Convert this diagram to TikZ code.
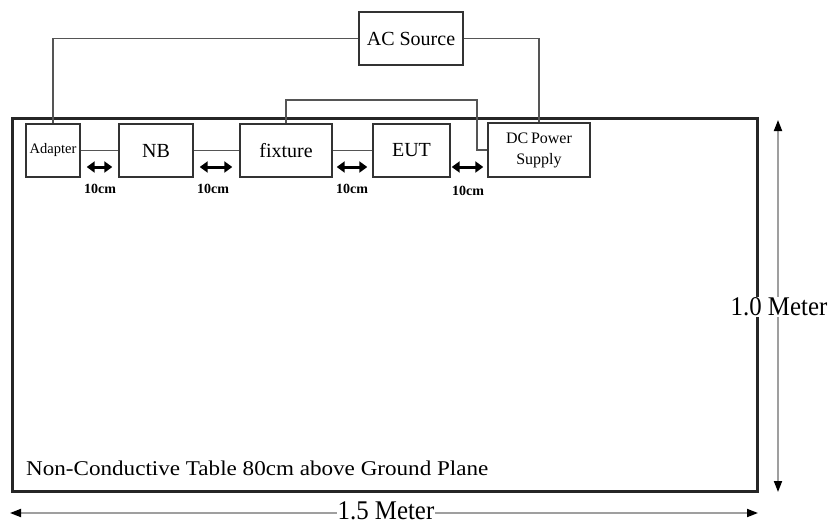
\documentclass[tikz,border=0pt]{standalone}
\usepackage{fontspec}
\setmainfont{Liberation Serif}
\usetikzlibrary{arrows.meta}
\definecolor{wire}{HTML}{555555}
\definecolor{boxc}{HTML}{333333}
\tikzset{
  x=1pt, y=-1pt,
  box/.style={draw=boxc, line width=1.4pt, rectangle, inner sep=0pt, minimum height=53pt, align=center, font=\fontsize{20}{20}\selectfont},
  wireline/.style={draw=wire, line width=1.7pt},
  gap/.style={line width=3pt, {Triangle[length=8pt,width=11pt]}-{Triangle[length=8pt,width=11pt]}},
  gaplabel/.style={font=\fontsize{14}{14}\selectfont\bfseries},
  dimline/.style={draw=gray!75, line width=1.8pt, {Triangle[length=11pt,width=8pt,fill=black,color=black]}-{Triangle[length=11pt,width=8pt,fill=black,color=black]}},
  dimlabel/.style={fill=white, inner sep=0.5pt, font=\fontsize{27}{27}\selectfont}
}
\begin{document}
\begin{tikzpicture}
\useasboundingbox (0,0) rectangle (834,525);
% table
\draw[line width=3pt, draw=black!85] (12,118) rectangle (757,491);
\node[anchor=west, inner sep=0pt, font=\fontsize{21}{21}\selectfont] (tabletext) at (26,468) {\scalebox{1.1}[1]{Non-Conductive Table 80cm above Ground Plane}};
% boxes
\node[box, minimum width=104pt] (ac) at (411,38.5) {AC Source};
\node[box, minimum width=54pt, font=\fontsize{14.5}{14.5}\selectfont] (adapter) at (53,150.5) {Adapter};
\node[box, minimum width=74pt] (nb) at (156,150.5) {NB};
\node[box, minimum width=92pt] (fix) at (286,150.5) {fixture};
\node[box, minimum width=77pt] (eut) at (411.5,150.5) {EUT};
\node[box, minimum width=102pt, minimum height=54pt, font=\fontsize{16}{21}\selectfont] (dc) at (539,150) {DC\,Power\\Supply};
% wiring
\draw[wireline] (ac.west) -| (adapter.north);
\draw[wireline] (ac.east) -| (dc.north);
\draw[wireline] (adapter.east) -- (nb.west);
\draw[wireline] (nb.east) -- (fix.west);
\draw[wireline] (fix.east) -- (eut.west);
\coordinate (bend) at (477,100);
\draw[wireline] (fix.north) |- (bend) |- (dc.west);
% 10cm gaps
\draw[gap] ([xshift=6pt,yshift=-16.5pt]adapter.east) -- ([xshift=-6pt,yshift=-16.5pt]nb.west);
\draw[gap] ([xshift=6pt,yshift=-16.5pt]nb.east) -- ([xshift=-7pt,yshift=-16.5pt]fix.west);
\draw[gap] ([xshift=4pt,yshift=-16.5pt]fix.east) -- ([xshift=-5pt,yshift=-16.5pt]eut.west);
\draw[gap] ([xshift=1pt,yshift=-16.5pt]eut.east) -- ([xshift=-4pt,yshift=-17pt]dc.west);
\node[gaplabel] (l1) at (100,189) {10cm};
\node[gaplabel] (l2) at (213,189) {10cm};
\node[gaplabel] (l3) at (352,189) {10cm};
\node[gaplabel] (l4) at (468,191) {10cm};
% dimensions
\coordinate (vtop) at (778,120);
\coordinate (vbot) at (778,492);
\draw[dimline] (vtop) -- (vbot);
\node[dimlabel] (hm) at (779,307) {\scalebox{0.92}[1]{1.0 Meter}};
\coordinate (hl) at (10,513);
\coordinate (hr) at (758,513);
\draw[dimline] (hl) -- (hr);
\node[dimlabel] (wm) at (386,510.5) {\scalebox{0.92}[1]{1.5 Meter}};
\end{tikzpicture}
\end{document}
